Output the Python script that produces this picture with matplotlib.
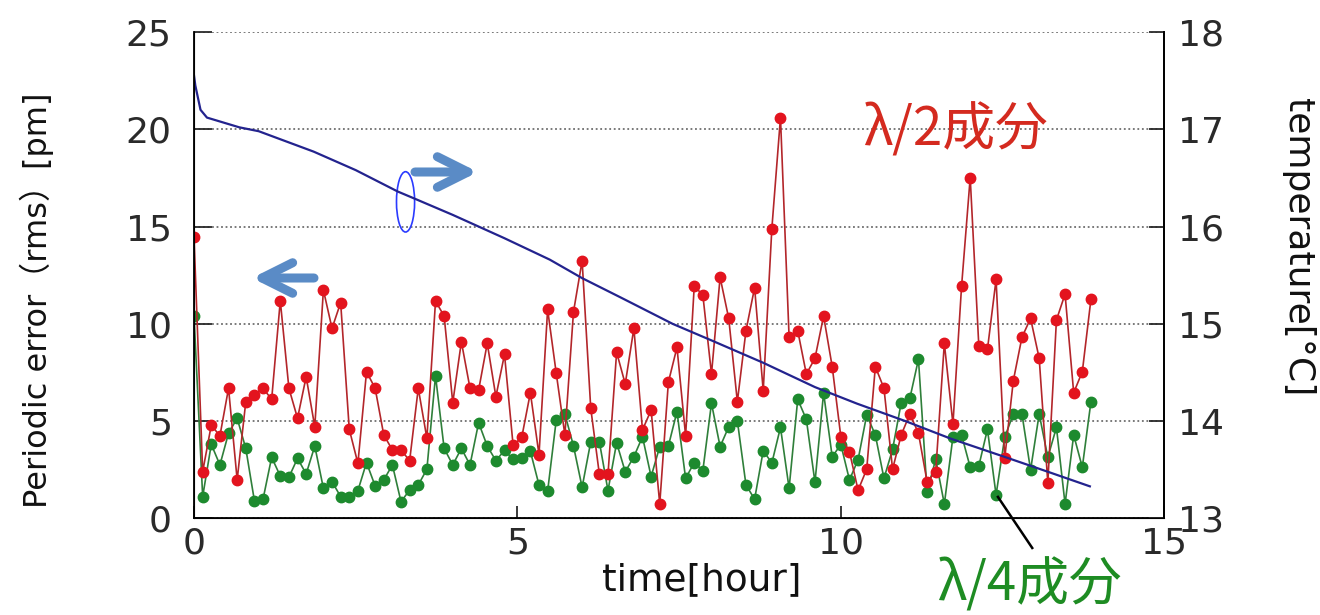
import numpy as np
import matplotlib
matplotlib.use("Agg")
import matplotlib.pyplot as plt
from matplotlib.patches import Ellipse
from matplotlib.lines import Line2D

# ------------------- DATA ------------------- #

# samples every 8 minutes
interval_min = 8

half_wave = [
    14.44, 2.40, 4.80, 4.24, 6.69, 1.98, 6.00, 6.34, 6.69, 6.12,
    11.19, 6.69, 5.15, 7.28, 4.71, 11.74, 9.77, 11.09, 4.58, 2.83,
    7.54, 6.69, 4.29, 3.52, 3.52, 2.97, 6.69, 4.12, 11.17, 10.40,
    5.95, 9.08, 6.69, 6.60, 9.00, 6.26, 8.43, 3.75, 4.17, 6.46,
    3.28, 10.74, 7.46, 4.29, 10.62, 13.24, 5.66, 2.27, 2.27, 8.54,
    6.91, 9.77, 4.55, 5.57, 0.74, 7.00, 8.79, 4.25, 11.94, 11.48,
    7.42, 12.39, 10.28, 6.00, 9.65, 11.86, 6.56, 14.90, 20.60, 9.31,
    9.65, 7.42, 8.23, 10.40, 7.80, 4.20, 3.43, 1.45, 2.53, 7.80,
    6.69, 2.53, 4.29, 5.37, 4.38, 1.89, 2.40, 9.00, 4.85, 11.94,
    17.52, 8.86, 8.69, 12.28, 3.09, 7.08, 9.31, 10.28, 8.23, 1.84,
    10.20, 11.53, 6.46, 7.54, 11.26,
]

quarter_wave = [
    10.40, 1.12, 3.81, 2.75, 4.38, 5.15, 3.60, 0.91, 0.99, 3.14,
    2.18, 2.12, 3.09, 2.29, 3.72, 1.55, 1.89, 1.12, 1.12, 1.43,
    2.87, 1.67, 1.98, 2.75, 0.86, 1.46, 1.72, 2.53, 7.33, 3.60,
    2.75, 3.60, 2.75, 4.92, 3.72, 2.97, 3.50, 3.04, 3.12, 3.45,
    1.72, 1.40, 5.06, 5.37, 3.72, 1.60, 3.94, 3.94, 1.43, 3.89,
    2.40, 3.17, 4.20, 2.15, 3.69, 3.72, 5.49, 2.06, 2.87, 2.46,
    5.92, 3.69, 4.71, 5.02, 1.72, 0.99, 3.48, 2.85, 4.68, 1.55,
    6.12, 5.09, 1.86, 6.45, 3.17, 3.80, 1.98, 3.02, 5.32, 4.29,
    2.06, 3.55, 5.95, 6.17, 8.18, 1.38, 3.04, 0.74, 4.20, 4.29,
    2.63, 2.70, 4.58, 1.21, 4.17, 5.37, 5.37, 2.49, 5.37, 3.14,
    4.68, 0.74, 4.29, 2.63, 6.00,
]

temp_time = [0.0, 0.02, 0.1, 0.2, 0.7, 1.0, 1.85, 2.5, 3.15, 3.4, 4.0, 4.8,
             5.5, 6.0, 6.6, 7.4, 8.0, 8.8, 9.6, 10.25, 11.0, 11.7, 12.5, 13.2, 13.85]
temp_val = [17.55, 17.45, 17.2, 17.12, 17.02, 16.98, 16.77, 16.58, 16.36, 16.29, 16.12, 15.88,
            15.66, 15.47, 15.27, 15.0, 14.83, 14.6, 14.35, 14.18, 14.0, 13.82, 13.64, 13.48, 13.33]

x_ticks = [0, 5, 10, 15]
err_ticks = [0, 5, 10, 15, 20, 25]
temp_ticks = [13, 14, 15, 16, 17, 18]

time_h = np.arange(len(half_wave)) * interval_min / 60.0

# ------------------- PLOT ------------------- #

plt.rcParams['font.family'] = ['DejaVu Sans', 'Noto Sans CJK JP']

fig = plt.figure(figsize=(13.2, 6.15), dpi=100)
ax = fig.add_axes([0.147, 0.157, 0.735, 0.791])

ax.set_xlim(0, 15)
ax.set_ylim(0, 25)
ax.set_xticks(x_ticks)
ax.set_yticks(err_ticks)
ax.yaxis.grid(True, linestyle=(0, (1, 1.5)), color='#6e6e6e', linewidth=1.3)
ax.set_axisbelow(True)

ax.plot(time_h, half_wave, color='#b3262a', lw=1.2, marker='o', ms=7.5,
        mfc='#e3141e', mec='#e3141e', zorder=3)
ax.plot(time_h, quarter_wave, color='#2f7f3a', lw=1.2, marker='o', ms=7.5,
        mfc='#1d8a2e', mec='#1d8a2e', zorder=2)

ax.spines['top'].set_visible(False)
for s in ['left', 'bottom', 'right']:
    ax.spines[s].set_linewidth(1.3)
ax.tick_params(axis='y', direction='in', length=13, width=1.3, labelsize=26,
               pad=16, colors='#2a2a2a')
ax.tick_params(axis='x', direction='in', length=9, width=1.3, labelsize=26,
               pad=6, colors='#2a2a2a')

ax2 = ax.twinx()
ax2.set_ylim(13, 18)
ax2.set_yticks(temp_ticks)
ax2.plot(temp_time, temp_val, color='#23238e', lw=1.6)
ax2.spines['top'].set_visible(False)
ax2.spines['right'].set_linewidth(1.3)
ax2.tick_params(axis='y', direction='in', length=11, width=1.3, labelsize=26,
                pad=10, colors='#2a2a2a')

# labels
fig.text(0.028, 0.512, 'Periodic error（rms）[pm]', rotation=90,
         ha='center', va='center', fontsize=23, color='#111111')
fig.text(0.983, 0.598, 'temperature[°C]', rotation=-90,
         ha='center', va='center', fontsize=26, color='#111111')
fig.text(0.532, 0.057, 'time[hour]', ha='center', va='center',
         fontsize=27, color='#111111')

fig.text(0.7235, 0.789, 'λ/2成分', ha='center', va='center', fontsize=38,
         color='#d42a1f', family=['Noto Sans CJK JP'])
fig.text(0.780, 0.049, 'λ/4成分', ha='center', va='center', fontsize=38,
         color='#1e8c23', family=['Noto Sans CJK JP'])

# arrows pointing to the axes
arrow_kw = dict(arrowstyle='->,head_length=2.2,head_width=1.1', color='#5a8bc6',
                lw=6.5, mutation_scale=10, shrinkA=0, shrinkB=0)
ax.annotate('', xy=(478, 443), xytext=(415, 443), xycoords='figure pixels',
            textcoords='figure pixels', arrowprops=arrow_kw)
ax.annotate('', xy=(252, 337), xytext=(314, 337), xycoords='figure pixels',
            textcoords='figure pixels', arrowprops=arrow_kw)

ax.add_patch(Ellipse((3.27, 16.27), 0.28, 3.1, fill=False, edgecolor='#2b3bff',
                     lw=1.2, zorder=5))

fig.add_artist(Line2D([0.756, 0.782], [0.192, 0.109], color='black', lw=1.8,
                      transform=fig.transFigure))

fig.savefig('out.png', dpi=100)
